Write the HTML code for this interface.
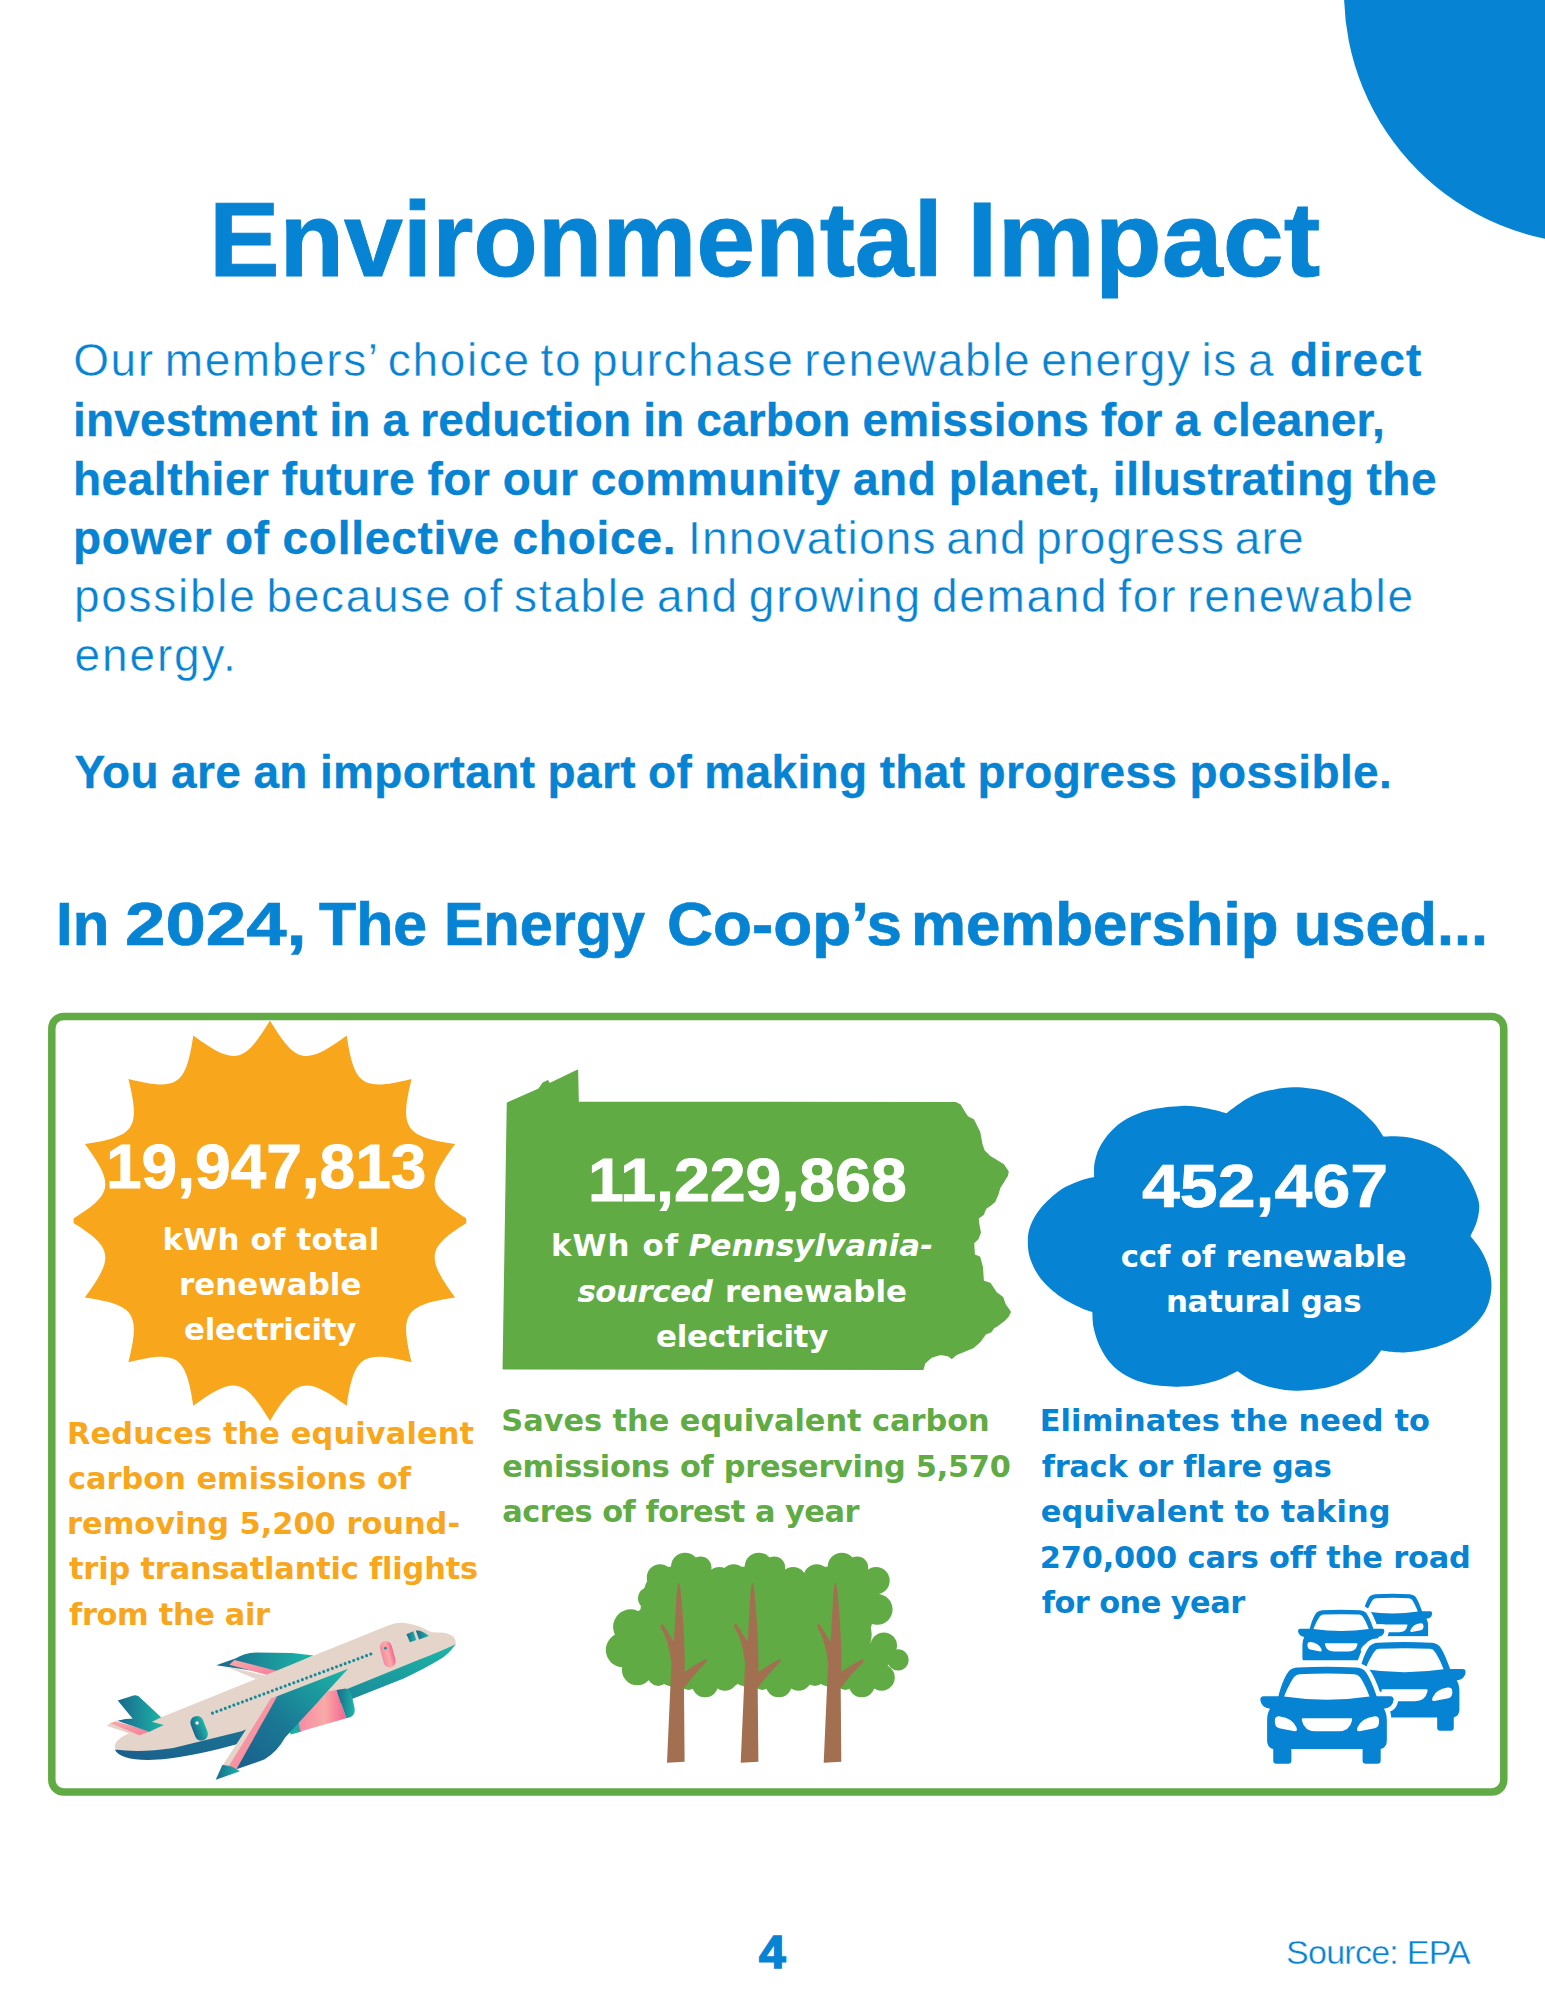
<!DOCTYPE html>
<html lang="en"><head><meta charset="utf-8"><title>Environmental Impact</title><style>html,body{margin:0;padding:0;background:#fff}#pg{position:relative;width:1545px;height:2000px;overflow:hidden;background:#fff;font-family:"Liberation Sans", sans-serif}.t{position:absolute;white-space:pre;line-height:1;font-weight:400}.d{font-family:"DejaVu Sans", "Liberation Sans", sans-serif}.b{font-weight:700}.i{font-style:italic}</style></head>
<body><div id="pg">
<svg width="1545" height="2000" viewBox="0 0 1545 2000" style="position:absolute;left:0;top:0"><circle cx="1596" cy="-8" r="252" fill="#0783d3"/><rect x="51.8" y="1016.4" width="1452" height="775.6" rx="12" fill="none" stroke="#61ab45" stroke-width="7.5"/><clipPath id="sunclip"><rect x="73.6" y="1000" width="392.6" height="440"/></clipPath><path d="M270,1020.4 C296.1,1063.9 305.9,1065.8 346.7,1035.6 C354.1,1085.8 362.4,1091.3 411.6,1079.1 C399.4,1128.3 404.9,1136.6 455.1,1144 C424.9,1184.8 426.8,1194.6 470.3,1220.7 C426.8,1246.8 424.9,1256.6 455.1,1297.4 C404.9,1304.8 399.4,1313.1 411.6,1362.3 C362.4,1350.1 354.1,1355.6 346.7,1405.8 C305.9,1375.6 296.1,1377.5 270,1421 C243.9,1377.5 234.1,1375.6 193.3,1405.8 C185.9,1355.6 177.6,1350.1 128.4,1362.3 C140.6,1313.1 135.1,1304.8 84.9,1297.4 C115.1,1256.6 113.2,1246.8 69.7,1220.7 C113.2,1194.6 115.1,1184.8 84.9,1144 C135.1,1136.6 140.6,1128.3 128.4,1079.1 C177.6,1091.3 185.9,1085.8 193.3,1035.6 C234.1,1065.8 243.9,1063.9 270,1020.4Z" fill="#f8a61b" clip-path="url(#sunclip)"/><polygon points="503.3,1368.8 507.5,1103.1 538.9,1089.1 543.1,1083.2 547.7,1080.8 549.4,1083.9 577.4,1070.3 578.1,1102.4 955.5,1102.7 960,1105 964.5,1112.5 967.5,1117 973.5,1120 976.5,1126 979.5,1132 981.7,1144 984,1150.7 990,1156.7 997.5,1161.2 1003.5,1165 1008,1171.7 1007.2,1175.5 1003.5,1181.5 999.7,1187.5 997.5,1195 994.5,1201.7 990,1205.5 985.5,1208.5 983.2,1214.5 978,1218.2 978.7,1225 980.2,1232.5 978,1238.5 973.5,1243 974.2,1255 979.5,1257.2 982.2,1267 983.2,1281.2 990,1283.5 996,1292.5 1002.7,1297.7 1005,1304.5 1010.2,1312 1008,1316.5 1003.5,1321 997.5,1325.5 993.7,1327.7 990.7,1331.8 985.5,1333.7 979.5,1342 973.5,1347.2 964.5,1351 957,1354 951.7,1358.2 948,1355.5 940.5,1354.3 931.5,1357 924.7,1363 922.8,1369.3" fill="#61ab45" stroke="#61ab45" stroke-width="1.5" stroke-linejoin="round"/><path d="M1094.1,1177.1 C1094.2,1174.9 1093.6,1169 1094.4,1164.1 C1095.3,1159.3 1096.6,1153.4 1099.3,1148 C1102,1142.6 1106,1136.6 1110.6,1131.8 C1115.2,1126.9 1120.3,1122.5 1126.8,1118.8 C1133.3,1115.2 1140.3,1112.1 1149.4,1109.9 C1158.6,1107.8 1172.4,1106.2 1181.8,1105.9 C1191.3,1105.6 1198.7,1107.1 1206.1,1108.3 C1213.5,1109.5 1222.9,1112.4 1226.3,1113.2 C1230.3,1110.5 1242,1101 1250,1097 C1258,1093 1266.2,1091 1274.3,1089.4 C1282.4,1087.8 1289.1,1086.7 1298.5,1087.3 C1308,1087.9 1321.5,1089.8 1330.9,1092.9 C1340.3,1096 1348.2,1101 1355.2,1105.9 C1362.2,1110.7 1368.3,1116.9 1373,1122.1 C1377.7,1127.2 1381.7,1134.2 1383.5,1136.6 C1385.5,1136.6 1390.9,1136.1 1395.6,1136.3 C1400.4,1136.5 1406.4,1136.9 1411.8,1137.9 C1417.2,1139 1422.6,1140.6 1428,1142.8 C1433.4,1145 1438.8,1147.4 1444.2,1151.2 C1449.6,1155 1455.8,1160.4 1460.4,1165.8 C1464.9,1171.2 1468.7,1177.9 1471.7,1183.6 C1474.6,1189.2 1476.9,1195.4 1478.2,1199.7 C1479.4,1204.1 1479.4,1205.7 1479.1,1209.4 C1478.9,1213.2 1478,1217.9 1476.5,1222.4 C1475.1,1226.8 1471.4,1233.9 1470.4,1236.1 C1472,1238.2 1477,1243.8 1479.8,1248.3 C1482.6,1252.7 1485.2,1257.7 1487.1,1262.8 C1488.9,1268 1490.5,1273.6 1491.1,1279 C1491.7,1284.4 1491.6,1289.8 1490.6,1295.2 C1489.6,1300.6 1487.8,1306.3 1485,1311.4 C1482.1,1316.5 1477.9,1321.5 1473.3,1326 C1468.7,1330.4 1463.3,1334.6 1457.1,1338.1 C1450.9,1341.6 1443.6,1344.7 1436.1,1347 C1428.5,1349.3 1418.6,1351 1411.8,1351.8 C1405.1,1352.7 1400.8,1352.5 1395.6,1352.3 C1390.5,1352.1 1383.5,1350.8 1381.1,1350.6 C1379.4,1352.7 1375.7,1358.9 1371.4,1363.2 C1367,1367.4 1361.9,1372.2 1355.2,1376.1 C1348.4,1380 1340.3,1384.2 1330.9,1386.6 C1321.5,1389.1 1308,1390.5 1298.5,1390.7 C1289.1,1390.9 1281.8,1389.5 1274.3,1387.9 C1266.7,1386.4 1259.3,1384.1 1253.2,1381.3 C1247.1,1378.5 1240.2,1372.9 1237.6,1371.3 C1235.1,1372.5 1227.5,1376.5 1222.3,1378.5 C1217,1380.6 1212.8,1382 1206.1,1383.4 C1199.3,1384.7 1191.3,1386.5 1181.8,1386.6 C1172.4,1386.8 1158.6,1386 1149.4,1384.2 C1140.3,1382.5 1133.3,1379.6 1126.8,1376.1 C1120.3,1372.6 1115.2,1368.3 1110.6,1363.2 C1106,1358 1102.1,1351.3 1099.3,1345.4 C1096.5,1339.4 1094.8,1333.2 1093.6,1327.6 C1092.5,1322 1092.5,1314.5 1092.3,1311.9 C1090.5,1311.3 1086.8,1310.7 1081.5,1308.2 C1076.2,1305.6 1067.2,1301.7 1060.5,1296.8 C1053.7,1292 1046,1285.2 1041,1279 C1036,1272.8 1032.7,1265.8 1030.5,1259.6 C1028.3,1253.4 1027.8,1247.5 1027.8,1241.8 C1027.8,1236.1 1028.3,1231.3 1030.5,1225.6 C1032.7,1220 1036,1213.8 1041,1207.8 C1046,1201.9 1053.7,1194.6 1060.5,1190 C1067.2,1185.4 1075.9,1182.5 1081.5,1180.3 C1087.1,1178.2 1092,1177.6 1094.1,1177.1Z" fill="#0783d3"/><defs><linearGradient id="gT" x1="0" y1="0" x2="1" y2="0"><stop offset="0" stop-color="#1a688d"/><stop offset="1" stop-color="#1cb6a6"/></linearGradient><linearGradient id="gT2" x1="0" y1="1" x2="1" y2="0"><stop offset="0" stop-color="#1a5f8c"/><stop offset="0.45" stop-color="#1a7a95"/><stop offset="1" stop-color="#1cb6a6"/></linearGradient><linearGradient id="gP" x1="0" y1="0" x2="1" y2="0"><stop offset="0" stop-color="#f68aa3"/><stop offset="0.55" stop-color="#f9aaa8"/><stop offset="1" stop-color="#f5648e"/></linearGradient><linearGradient id="gP2" x1="0" y1="0" x2="1" y2="1"><stop offset="0" stop-color="#f9aaa8"/><stop offset="1" stop-color="#f57d9c"/></linearGradient></defs><g transform="translate(90,1600) scale(0.25253)"><path d="M500,258 L575,232 Q610,210 660,208 L800,210 L885,220 L720,292Z" fill="url(#gT)"/><path d="M552,256 L572,238 L745,282 L705,298Z" fill="url(#gP2)"/><path d="M540,264 L700,300 L655,312Z" fill="#e4d4c9"/><path d="M110,398 L172,378 Q190,374 202,390 L290,472 L200,508Z" fill="url(#gT)"/><path d="M100,588 Q88,560 150,530 L280,465 L1176,103 Q1210,88 1240,90.5 Q1290,95 1337,120 Q1345,127 1356,127.5 L1400,130 Q1430,135 1443,150 Q1452,165 1446,182 L1050,345 L600,535 L300,605 Q150,628 100,588Z" fill="#e4d4c9"/><path d="M1448,175 Q1420,215 1385,236 Q1320,275 1240,312 L1045,389 L620,560 Q400,624 250,633 Q120,637 98,592 Q200,606 330,586 L600,520 L1040,344 L1300,238 Q1400,198 1448,175Z" fill="url(#gT2)"/><path d="M66,498 L84,486 L196,534 L188,540Z" fill="#e4d4c9"/><path d="M80,488 L100,480 L240,520 L196,536Z" fill="url(#gP2)"/><path d="M108,478 Q150,466 200,470 L292,495 L235,522Z" fill="url(#gT)"/><rect x="479.5" y="442" width="11" height="12" rx="4" transform="rotate(-20 485 448)" fill="#178a9a"/><rect x="496.4" y="435.7" width="11" height="12" rx="4" transform="rotate(-20 501.9 441.7)" fill="#178a9a"/><rect x="513.4" y="429.4" width="11" height="12" rx="4" transform="rotate(-20 518.9 435.4)" fill="#178a9a"/><rect x="530.3" y="423" width="11" height="12" rx="4" transform="rotate(-20 535.8 429)" fill="#178a9a"/><rect x="547.3" y="416.7" width="11" height="12" rx="4" transform="rotate(-20 552.8 422.7)" fill="#178a9a"/><rect x="564.2" y="410.4" width="11" height="12" rx="4" transform="rotate(-20 569.7 416.4)" fill="#178a9a"/><rect x="581.2" y="404.1" width="11" height="12" rx="4" transform="rotate(-20 586.7 410.1)" fill="#178a9a"/><rect x="598.1" y="397.7" width="11" height="12" rx="4" transform="rotate(-20 603.6 403.7)" fill="#178a9a"/><rect x="615.1" y="391.4" width="11" height="12" rx="4" transform="rotate(-20 620.6 397.4)" fill="#178a9a"/><rect x="632" y="385.1" width="11" height="12" rx="4" transform="rotate(-20 637.5 391.1)" fill="#178a9a"/><rect x="649" y="378.8" width="11" height="12" rx="4" transform="rotate(-20 654.5 384.8)" fill="#178a9a"/><rect x="665.9" y="372.4" width="11" height="12" rx="4" transform="rotate(-20 671.4 378.4)" fill="#178a9a"/><rect x="682.9" y="366.1" width="11" height="12" rx="4" transform="rotate(-20 688.4 372.1)" fill="#178a9a"/><rect x="699.8" y="359.8" width="11" height="12" rx="4" transform="rotate(-20 705.3 365.8)" fill="#178a9a"/><rect x="716.7" y="353.5" width="11" height="12" rx="4" transform="rotate(-20 722.2 359.5)" fill="#178a9a"/><rect x="733.7" y="347.1" width="11" height="12" rx="4" transform="rotate(-20 739.2 353.1)" fill="#178a9a"/><rect x="750.6" y="340.8" width="11" height="12" rx="4" transform="rotate(-20 756.1 346.8)" fill="#178a9a"/><rect x="767.6" y="334.5" width="11" height="12" rx="4" transform="rotate(-20 773.1 340.5)" fill="#178a9a"/><rect x="784.5" y="328.2" width="11" height="12" rx="4" transform="rotate(-20 790 334.2)" fill="#178a9a"/><rect x="801.5" y="321.8" width="11" height="12" rx="4" transform="rotate(-20 807 327.8)" fill="#178a9a"/><rect x="818.4" y="315.5" width="11" height="12" rx="4" transform="rotate(-20 823.9 321.5)" fill="#178a9a"/><rect x="835.4" y="309.2" width="11" height="12" rx="4" transform="rotate(-20 840.9 315.2)" fill="#178a9a"/><rect x="852.3" y="302.9" width="11" height="12" rx="4" transform="rotate(-20 857.8 308.9)" fill="#178a9a"/><rect x="869.3" y="296.5" width="11" height="12" rx="4" transform="rotate(-20 874.8 302.5)" fill="#178a9a"/><rect x="886.2" y="290.2" width="11" height="12" rx="4" transform="rotate(-20 891.7 296.2)" fill="#178a9a"/><rect x="903.1" y="283.9" width="11" height="12" rx="4" transform="rotate(-20 908.6 289.9)" fill="#178a9a"/><rect x="920.1" y="277.6" width="11" height="12" rx="4" transform="rotate(-20 925.6 283.6)" fill="#178a9a"/><rect x="937" y="271.2" width="11" height="12" rx="4" transform="rotate(-20 942.5 277.2)" fill="#178a9a"/><rect x="954" y="264.9" width="11" height="12" rx="4" transform="rotate(-20 959.5 270.9)" fill="#178a9a"/><rect x="970.9" y="258.6" width="11" height="12" rx="4" transform="rotate(-20 976.4 264.6)" fill="#178a9a"/><rect x="987.9" y="252.3" width="11" height="12" rx="4" transform="rotate(-20 993.4 258.3)" fill="#178a9a"/><rect x="1004.8" y="245.9" width="11" height="12" rx="4" transform="rotate(-20 1010.3 251.9)" fill="#178a9a"/><rect x="1021.8" y="239.6" width="11" height="12" rx="4" transform="rotate(-20 1027.3 245.6)" fill="#178a9a"/><rect x="1038.7" y="233.3" width="11" height="12" rx="4" transform="rotate(-20 1044.2 239.3)" fill="#178a9a"/><rect x="1055.7" y="227" width="11" height="12" rx="4" transform="rotate(-20 1061.2 233)" fill="#178a9a"/><rect x="1072.6" y="220.6" width="11" height="12" rx="4" transform="rotate(-20 1078.1 226.6)" fill="#178a9a"/><rect x="1089.6" y="214.3" width="11" height="12" rx="4" transform="rotate(-20 1095.1 220.3)" fill="#178a9a"/><rect x="1106.5" y="208" width="11" height="12" rx="4" transform="rotate(-20 1112 214)" fill="#178a9a"/><rect x="-24" y="-53" width="48" height="106" rx="24" transform="translate(1179,215) rotate(-15)" fill="url(#gP)"/><circle cx="1170" cy="191" r="5.5" fill="#178a9a"/><rect x="-26" y="-50" width="52" height="100" rx="25" transform="translate(432,508) rotate(-21)" fill="url(#gT)"/><circle cx="424" cy="487" r="7" fill="#f3ebe6"/><path d="M1253,136 L1280,124 L1292,158 L1267,167Z" fill="url(#gT)"/><path d="M1290,121 Q1315,118 1342,143 L1303,156Z" fill="url(#gT)"/><path d="M785,505 L832,480 L838,521 L795,533Z" fill="#1caea5"/><path d="M940,362 L976,356 L1015,468 L833,521 L826,484Z" fill="url(#gP)"/><path d="M976,356 L1012,350 Q1030,352 1038,385 L1048,430 Q1050,458 1030,464 L1015,468Z" fill="url(#gT)"/><path d="M716,388 L690,402 L520,662 L552,662Z" fill="#e4d4c9"/><path d="M1022,272 L738,382 L585,628 L580,670 L690,632 Q742,600 772,545 L830,482Z" fill="url(#gT2)"/><path d="M742,380 L716,390 L548,660 L580,670Z" fill="url(#gP2)"/><path d="M498,712 L524,653 Q556,652 594,678Z" fill="url(#gT)"/></g><g fill="#61ab45"><circle cx="630.7" cy="1626.9" r="17.6"/><circle cx="623" cy="1650" r="17.2"/><circle cx="637.3" cy="1669.8" r="15.4"/><circle cx="658.2" cy="1675.3" r="10.6"/><circle cx="649.4" cy="1598.3" r="11.4"/><circle cx="660" cy="1577.4" r="13.2"/><circle cx="685.1" cy="1566.8" r="14.1"/><circle cx="700.5" cy="1567.5" r="11"/><circle cx="719.4" cy="1580.7" r="13.6"/><circle cx="720.5" cy="1609.3" r="15.4"/><circle cx="727.1" cy="1645.6" r="13.2"/><circle cx="741.4" cy="1659.9" r="10.6"/><circle cx="724.9" cy="1677.5" r="13.2"/><circle cx="705.1" cy="1684.1" r="13.2"/><circle cx="688.6" cy="1680.8" r="9.2"/><circle cx="678.7" cy="1612.6" r="38.5"/><circle cx="658.9" cy="1636.8" r="33"/><circle cx="687.5" cy="1634.6" r="27.5"/><circle cx="678.7" cy="1654.4" r="33"/><circle cx="689.7" cy="1595" r="33"/><circle cx="672.1" cy="1595" r="28.6"/><circle cx="700.7" cy="1663.2" r="24.2"/><circle cx="723.8" cy="1659.9" r="9.2"/><circle cx="704.4" cy="1626.9" r="17.6"/><circle cx="696.7" cy="1650" r="17.2"/><circle cx="711" cy="1669.8" r="15.4"/><circle cx="731.9" cy="1675.3" r="10.6"/><circle cx="723.1" cy="1598.3" r="11.4"/><circle cx="733.7" cy="1577.4" r="13.2"/><circle cx="758.8" cy="1566.8" r="14.1"/><circle cx="774.2" cy="1567.5" r="11"/><circle cx="793.1" cy="1580.7" r="13.6"/><circle cx="794.2" cy="1609.3" r="15.4"/><circle cx="800.8" cy="1645.6" r="13.2"/><circle cx="815.1" cy="1659.9" r="10.6"/><circle cx="798.6" cy="1677.5" r="13.2"/><circle cx="778.8" cy="1684.1" r="13.2"/><circle cx="762.3" cy="1680.8" r="9.2"/><circle cx="752.4" cy="1612.6" r="38.5"/><circle cx="732.6" cy="1636.8" r="33"/><circle cx="761.2" cy="1634.6" r="27.5"/><circle cx="752.4" cy="1654.4" r="33"/><circle cx="763.4" cy="1595" r="33"/><circle cx="745.8" cy="1595" r="28.6"/><circle cx="774.4" cy="1663.2" r="24.2"/><circle cx="797.5" cy="1659.9" r="9.2"/><circle cx="787.4" cy="1626.9" r="17.6"/><circle cx="779.7" cy="1650" r="17.2"/><circle cx="794" cy="1669.8" r="15.4"/><circle cx="814.9" cy="1675.3" r="10.6"/><circle cx="806.1" cy="1598.3" r="11.4"/><circle cx="816.7" cy="1577.4" r="13.2"/><circle cx="841.8" cy="1566.8" r="14.1"/><circle cx="857.2" cy="1567.5" r="11"/><circle cx="876.1" cy="1580.7" r="13.6"/><circle cx="877.2" cy="1609.3" r="15.4"/><circle cx="883.8" cy="1645.6" r="13.2"/><circle cx="898.1" cy="1659.9" r="10.6"/><circle cx="881.6" cy="1677.5" r="13.2"/><circle cx="861.8" cy="1684.1" r="13.2"/><circle cx="845.3" cy="1680.8" r="9.2"/><circle cx="835.4" cy="1612.6" r="38.5"/><circle cx="815.6" cy="1636.8" r="33"/><circle cx="844.2" cy="1634.6" r="27.5"/><circle cx="835.4" cy="1654.4" r="33"/><circle cx="846.4" cy="1595" r="33"/><circle cx="828.8" cy="1595" r="28.6"/><circle cx="857.4" cy="1663.2" r="24.2"/><circle cx="880.5" cy="1659.9" r="9.2"/></g><g fill="#a27050"><path d="M678.7,1582.5 Q676.9,1584 676,1606 L673.8,1641.7 L663.3,1624.7 Q661.1,1622.5 660.2,1626.3 Q668.8,1640.1 671.4,1663.2 L667,1762.7 L684.6,1761.8 L684,1687.9 Q696.3,1672 706.6,1662.1 L706.6,1658.8 Q696.3,1663.7 684.6,1672 Q685.3,1645.6 681.8,1603.8 Q680.4,1584 678.7,1582.5Z"/><path d="M752.4,1582.5 Q750.7,1584 749.8,1606 L747.6,1641.7 L737,1624.7 Q734.8,1622.5 733.9,1626.3 Q742.5,1640.1 745.1,1663.2 L740.7,1762.7 L758.4,1761.8 L757.7,1687.9 Q770,1672 780.4,1662.1 L780.4,1658.8 Q770,1663.7 758.4,1672 Q759,1645.6 755.5,1603.8 Q754.2,1584 752.4,1582.5Z"/><path d="M835.4,1582.5 Q833.6,1584 832.7,1606 L830.5,1641.7 L820,1624.7 Q817.8,1622.5 816.9,1626.3 Q825.5,1640.1 828.1,1663.2 L823.7,1762.7 L841.3,1761.8 L840.7,1687.9 Q853,1672 863.3,1662.1 L863.3,1658.8 Q853,1663.7 841.3,1672 Q842,1645.6 838.5,1603.8 Q837.1,1584 835.4,1582.5Z"/></g><g transform="translate(1240,1580) scale(0.16181)"><g transform="translate(942,86) scale(0.5960)"><path d="M-300,180 C-280,100 -255,50 -235,25 Q-215,5 -180,3 Q0,-7 180,3 Q215,5 235,25 C255,50 280,100 307,180 L392,180 Q412,180 412,202 Q408,250 352,257 Q370,285 370,330 L370,455 Q370,495 332,507 L332,577 Q332,597 312,597 L240,597 Q220,597 220,577 L220,507 L-220,507 L-220,577 Q-220,597 -240,597 L-312,597 Q-332,597 -332,577 L-332,507 Q-370,495 -370,455 L-370,330 Q-370,285 -352,257 Q-408,250 -412,202 Q-412,180 -392,180 Z" fill="#0783d3"/><path d="M-265,182 C-245,130 -215,75 -200,58 Q-190,45 -170,44 Q0,36 170,44 Q190,45 200,58 C215,75 245,130 263,182 Q0,222 -265,182Z M-322,330 Q-322,302 -290,305 Q-215,315 -190,370 Q-178,397 -200,396 L-295,378 Q-325,370 -322,330Z M322,330 Q322,302 290,305 Q215,315 190,370 Q178,397 200,396 L295,378 Q325,370 322,330Z M-150,317 L150,317 Q158,317 155,330 Q140,397 70,397 L-70,397 Q-140,397 -155,330 Q-158,317 -150,317Z" fill="#fff"/></g><rect x="890" y="347" width="290" height="30" fill="#fff"/><g transform="translate(625.5,185) scale(0.6480)"><path d="M-300,180 C-280,100 -255,50 -235,25 Q-215,5 -180,3 Q0,-7 180,3 Q215,5 235,25 C255,50 280,100 307,180 L392,180 Q412,180 412,202 Q408,250 352,257 Q370,285 370,330 L370,455 Q370,495 332,507 L332,577 Q332,597 312,597 L240,597 Q220,597 220,577 L220,507 L-220,507 L-220,577 Q-220,597 -240,597 L-312,597 Q-332,597 -332,577 L-332,507 Q-370,495 -370,455 L-370,330 Q-370,285 -352,257 Q-408,250 -412,202 Q-412,180 -392,180 Z" fill="#fff" stroke="#fff" stroke-width="86.4" stroke-linejoin="round"/><path d="M-300,180 C-280,100 -255,50 -235,25 Q-215,5 -180,3 Q0,-7 180,3 Q215,5 235,25 C255,50 280,100 307,180 L392,180 Q412,180 412,202 Q408,250 352,257 Q370,285 370,330 L370,455 Q370,495 332,507 L332,577 Q332,597 312,597 L240,597 Q220,597 220,577 L220,507 L-220,507 L-220,577 Q-220,597 -240,597 L-312,597 Q-332,597 -332,577 L-332,507 Q-370,495 -370,455 L-370,330 Q-370,285 -352,257 Q-408,250 -412,202 Q-412,180 -392,180 Z" fill="#0783d3"/><path d="M-265,182 C-245,130 -215,75 -200,58 Q-190,45 -170,44 Q0,36 170,44 Q190,45 200,58 C215,75 245,130 263,182 Q0,222 -265,182Z M-322,330 Q-322,302 -290,305 Q-215,315 -190,370 Q-178,397 -200,396 L-295,378 Q-325,370 -322,330Z M322,330 Q322,302 290,305 Q215,315 190,370 Q178,397 200,396 L295,378 Q325,370 322,330Z M-150,317 L150,317 Q158,317 155,330 Q140,397 70,397 L-70,397 Q-140,397 -155,330 Q-158,317 -150,317Z" fill="#fff"/></g><rect x="370" y="496" width="370" height="30" fill="#fff"/><g transform="translate(1017,385) scale(0.9160)"><path d="M-300,180 C-280,100 -255,50 -235,25 Q-215,5 -180,3 Q0,-7 180,3 Q215,5 235,25 C255,50 280,100 307,180 L392,180 Q412,180 412,202 Q408,250 352,257 Q370,285 370,330 L370,455 Q370,495 332,507 L332,577 Q332,597 312,597 L240,597 Q220,597 220,577 L220,507 L-220,507 L-220,577 Q-220,597 -240,597 L-312,597 Q-332,597 -332,577 L-332,507 Q-370,495 -370,455 L-370,330 Q-370,285 -352,257 Q-408,250 -412,202 Q-412,180 -392,180 Z" fill="#fff" stroke="#fff" stroke-width="61.1" stroke-linejoin="round"/><path d="M-300,180 C-280,100 -255,50 -235,25 Q-215,5 -180,3 Q0,-7 180,3 Q215,5 235,25 C255,50 280,100 307,180 L392,180 Q412,180 412,202 Q408,250 352,257 Q370,285 370,330 L370,455 Q370,495 332,507 L332,577 Q332,597 312,597 L240,597 Q220,597 220,577 L220,507 L-220,507 L-220,577 Q-220,597 -240,597 L-312,597 Q-332,597 -332,577 L-332,507 Q-370,495 -370,455 L-370,330 Q-370,285 -352,257 Q-408,250 -412,202 Q-412,180 -392,180 Z" fill="#0783d3"/><path d="M-265,182 C-245,130 -215,75 -200,58 Q-190,45 -170,44 Q0,36 170,44 Q190,45 200,58 C215,75 245,130 263,182 Q0,222 -265,182Z M-322,330 Q-322,302 -290,305 Q-215,315 -190,370 Q-178,397 -200,396 L-295,378 Q-325,370 -322,330Z M322,330 Q322,302 290,305 Q215,315 190,370 Q178,397 200,396 L295,378 Q325,370 322,330Z M-150,317 L150,317 Q158,317 155,330 Q140,397 70,397 L-70,397 Q-140,397 -155,330 Q-158,317 -150,317Z" fill="#fff"/></g><g transform="translate(537.5,538) scale(1.0000)"><path d="M-300,180 C-280,100 -255,50 -235,25 Q-215,5 -180,3 Q0,-7 180,3 Q215,5 235,25 C255,50 280,100 307,180 L392,180 Q412,180 412,202 Q408,250 352,257 Q370,285 370,330 L370,455 Q370,495 332,507 L332,577 Q332,597 312,597 L240,597 Q220,597 220,577 L220,507 L-220,507 L-220,577 Q-220,597 -240,597 L-312,597 Q-332,597 -332,577 L-332,507 Q-370,495 -370,455 L-370,330 Q-370,285 -352,257 Q-408,250 -412,202 Q-412,180 -392,180 Z" fill="#fff" stroke="#fff" stroke-width="56" stroke-linejoin="round"/><path d="M-300,180 C-280,100 -255,50 -235,25 Q-215,5 -180,3 Q0,-7 180,3 Q215,5 235,25 C255,50 280,100 307,180 L392,180 Q412,180 412,202 Q408,250 352,257 Q370,285 370,330 L370,455 Q370,495 332,507 L332,577 Q332,597 312,597 L240,597 Q220,597 220,577 L220,507 L-220,507 L-220,577 Q-220,597 -240,597 L-312,597 Q-332,597 -332,577 L-332,507 Q-370,495 -370,455 L-370,330 Q-370,285 -352,257 Q-408,250 -412,202 Q-412,180 -392,180 Z" fill="#0783d3"/><path d="M-265,182 C-245,130 -215,75 -200,58 Q-190,45 -170,44 Q0,36 170,44 Q190,45 200,58 C215,75 245,130 263,182 Q0,222 -265,182Z M-322,330 Q-322,302 -290,305 Q-215,315 -190,370 Q-178,397 -200,396 L-295,378 Q-325,370 -322,330Z M322,330 Q322,302 290,305 Q215,315 190,370 Q178,397 200,396 L295,378 Q325,370 322,330Z M-150,317 L150,317 Q158,317 155,330 Q140,397 70,397 L-70,397 Q-140,397 -155,330 Q-158,317 -150,317Z" fill="#fff"/></g></g></svg>
<div class="t b" style="left:208.7px;top:185.6px;font-size:106px;color:#0783d3;transform:scaleX(0.9969);transform-origin:0 0;-webkit-text-stroke:1.0px #0783d3;">Environmental</div>
<div class="t b" style="left:967.2px;top:185.6px;font-size:106px;color:#0783d3;transform:scaleX(1.0337);transform-origin:0 0;-webkit-text-stroke:1.0px #0783d3;">Impact</div>
<div class="t" style="left:73.2px;top:337.1px;font-size:46px;color:#0783d3;letter-spacing:1.632px;word-spacing:-4.5px;-webkit-text-stroke:0.45px #fff;">Our members’ choice to purchase renewable energy is a</div>
<div class="t b" style="left:1290.0px;top:337.1px;font-size:46px;color:#0783d3;letter-spacing:1.211px;word-spacing:-1px;-webkit-text-stroke:0.3px #0783d3;">direct</div>
<div class="t b" style="left:73.0px;top:396.6px;font-size:46px;color:#0783d3;letter-spacing:0.159px;word-spacing:-1px;-webkit-text-stroke:0.3px #0783d3;">investment in a reduction in carbon emissions for a cleaner,</div>
<div class="t b" style="left:73.0px;top:455.6px;font-size:46px;color:#0783d3;letter-spacing:0.522px;word-spacing:-1px;-webkit-text-stroke:0.3px #0783d3;">healthier future for our community and planet, illustrating the</div>
<div class="t b" style="left:73.0px;top:514.6px;font-size:46px;color:#0783d3;letter-spacing:0.776px;word-spacing:-1px;-webkit-text-stroke:0.3px #0783d3;">power of collective choice.</div>
<div class="t" style="left:688.0px;top:514.6px;font-size:46px;color:#0783d3;letter-spacing:1.232px;word-spacing:-4.5px;-webkit-text-stroke:0.45px #fff;">Innovations and progress are</div>
<div class="t" style="left:74.0px;top:573.1px;font-size:46px;color:#0783d3;letter-spacing:1.707px;word-spacing:-4.5px;-webkit-text-stroke:0.45px #fff;">possible because of stable and growing demand for renewable</div>
<div class="t" style="left:74.5px;top:631.6px;font-size:46px;color:#0783d3;letter-spacing:1.877px;word-spacing:-4.5px;-webkit-text-stroke:0.45px #fff;">energy.</div>
<div class="t b" style="left:74.4px;top:748.6px;font-size:46px;color:#0783d3;letter-spacing:0.364px;word-spacing:-1px;-webkit-text-stroke:0.3px #0783d3;">You are an important part of making that progress possible.</div>
<div class="t b" style="left:55.8px;top:892.8px;font-size:62px;color:#0783d3;transform:scaleX(0.9684);transform-origin:0 0;-webkit-text-stroke:0.7px #0783d3;">In</div>
<div class="t b" style="left:125.3px;top:892.8px;font-size:62px;color:#0783d3;transform:scaleX(1.1712);transform-origin:0 0;-webkit-text-stroke:0.7px #0783d3;">2024,</div>
<div class="t b" style="left:319.4px;top:892.8px;font-size:62px;color:#0783d3;transform:scaleX(0.9812);transform-origin:0 0;-webkit-text-stroke:0.7px #0783d3;">The</div>
<div class="t b" style="left:443.5px;top:892.8px;font-size:62px;color:#0783d3;transform:scaleX(0.9564);transform-origin:0 0;-webkit-text-stroke:0.7px #0783d3;">Energy</div>
<div class="t b" style="left:666.5px;top:892.8px;font-size:62px;color:#0783d3;transform:scaleX(1.0287);transform-origin:0 0;-webkit-text-stroke:0.7px #0783d3;">Co-op’s</div>
<div class="t b" style="left:911.3px;top:892.8px;font-size:62px;color:#0783d3;transform:scaleX(0.9967);transform-origin:0 0;-webkit-text-stroke:0.7px #0783d3;">membership</div>
<div class="t b" style="left:1293.6px;top:892.8px;font-size:62px;color:#0783d3;transform:scaleX(0.9881);transform-origin:0 0;-webkit-text-stroke:0.7px #0783d3;">used...</div>
<div class="t b" style="left:105.9px;top:1134.7px;font-size:63px;color:#fff;transform:scaleX(1.0162);transform-origin:0 0;-webkit-text-stroke:0.9px #fff;">19,947,813</div>
<div class="t d b" style="left:162.6px;top:1223.9px;font-size:30.9px;color:#fff;letter-spacing:0.156px;">kWh of total</div>
<div class="t d b" style="left:179.0px;top:1268.5px;font-size:30.9px;color:#fff;letter-spacing:0.024px;">renewable</div>
<div class="t d b" style="left:184.0px;top:1314.1px;font-size:30.9px;color:#fff;letter-spacing:-0.276px;">electricity</div>
<div class="t b" style="left:588.2px;top:1150.4px;font-size:61px;color:#fff;transform:scaleX(1.0557);transform-origin:0 0;-webkit-text-stroke:0.9px #fff;">11,229,868</div>
<div class="t d b" style="left:550.9px;top:1230.1px;font-size:30.9px;color:#fff;letter-spacing:1.043px;">kWh of</div>
<div class="t d b i" style="left:688.5px;top:1230.1px;font-size:30.9px;color:#fff;letter-spacing:0.120px;">Pennsylvania-</div>
<div class="t d b i" style="left:577.4px;top:1275.6px;font-size:30.9px;color:#fff;letter-spacing:-0.466px;">sourced</div>
<div class="t d b" style="left:725.0px;top:1275.6px;font-size:30.9px;color:#fff;letter-spacing:-0.026px;">renewable</div>
<div class="t d b" style="left:656.0px;top:1321.0px;font-size:30.9px;color:#fff;letter-spacing:-0.276px;">electricity</div>
<div class="t b" style="left:1142.0px;top:1155.9px;font-size:61px;color:#fff;transform:scaleX(1.1163);transform-origin:0 0;-webkit-text-stroke:0.7px #fff;">452,467</div>
<div class="t d b" style="left:1120.7px;top:1240.7px;font-size:30.9px;color:#fff;letter-spacing:-0.176px;">ccf of renewable</div>
<div class="t d b" style="left:1165.9px;top:1286.0px;font-size:30.9px;color:#fff;letter-spacing:-0.267px;">natural gas</div>
<div class="t d b" style="left:67.0px;top:1418.9px;font-size:30.4px;color:#f8a61b;letter-spacing:0.150px;">Reduces the equivalent</div>
<div class="t d b" style="left:68.0px;top:1463.7px;font-size:30.4px;color:#f8a61b;letter-spacing:0.005px;">carbon emissions of</div>
<div class="t d b" style="left:67.0px;top:1508.9px;font-size:30.4px;color:#f8a61b;letter-spacing:0.023px;">removing 5,200 round-</div>
<div class="t d b" style="left:69.0px;top:1554.0px;font-size:30.4px;color:#f8a61b;letter-spacing:-0.164px;">trip transatlantic flights</div>
<div class="t d b" style="left:69.0px;top:1599.5px;font-size:30.4px;color:#f8a61b;letter-spacing:-0.329px;">from the air</div>
<div class="t d b" style="left:501.3px;top:1406.2px;font-size:30.4px;color:#61ab45;letter-spacing:-0.027px;">Saves the equivalent carbon</div>
<div class="t d b" style="left:502.3px;top:1451.7px;font-size:30.4px;color:#61ab45;letter-spacing:-0.285px;">emissions of preserving 5,570</div>
<div class="t d b" style="left:502.3px;top:1497.1px;font-size:30.4px;color:#61ab45;letter-spacing:-0.485px;">acres of forest a year</div>
<div class="t d b" style="left:1039.7px;top:1406.2px;font-size:30.4px;color:#0783d3;letter-spacing:0.128px;">Eliminates the need to</div>
<div class="t d b" style="left:1041.7px;top:1451.9px;font-size:30.4px;color:#0783d3;letter-spacing:-0.261px;">frack or flare gas</div>
<div class="t d b" style="left:1040.7px;top:1497.3px;font-size:30.4px;color:#0783d3;letter-spacing:0.116px;">equivalent to taking</div>
<div class="t d b" style="left:1039.7px;top:1542.9px;font-size:30.4px;color:#0783d3;letter-spacing:-0.141px;">270,000 cars off the road</div>
<div class="t d b" style="left:1041.7px;top:1588.0px;font-size:30.4px;color:#0783d3;letter-spacing:-0.528px;">for one year</div>
<div class="t b" style="left:758.9px;top:1928.7px;font-size:46.3px;color:#0783d3;transform:scaleX(1.0346);transform-origin:0 0;-webkit-text-stroke:1.6px #0783d3;">4</div>
<div class="t" style="left:1286.1px;top:1934.9px;font-size:34px;color:#0783d3;letter-spacing:-0.745px;-webkit-text-stroke:0.4px #fff;">Source: EPA</div>
</div></body></html>
